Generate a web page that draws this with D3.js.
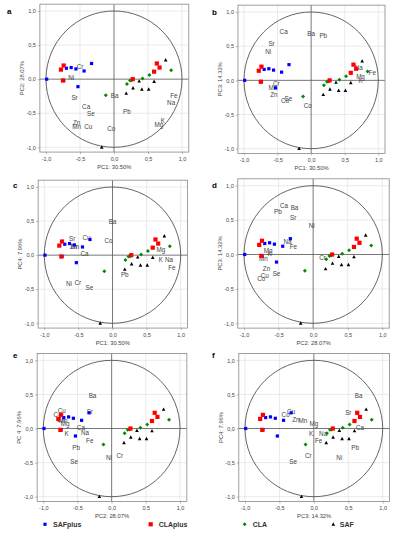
<!DOCTYPE html>
<html><head><meta charset="utf-8">
<script src="https://cdn.jsdelivr.net/npm/d3@7"></script>
<style>body{margin:0;background:#fff}svg{display:block;font-family:"Liberation Sans",Arial,sans-serif}</style>
</head><body><svg id="c" width="393" height="550"></svg>
<script>
// ---------- DATA ----------
const panelIds = ["a","b","c","d","e","f"];
const xTitles = ["PC1: 30.50%","PC1: 30.50%","PC1: 30.50%","PC2: 28.07%","PC2: 28.07%","PC3: 14.32%"];
const yTitles = ["PC2: 28.07%","PC3: 14.32%","PC4:  7.96%","PC3: 14.32%","PC 4:  7.96%","PC4:  7.96%"];
const tickValues = [-1,-0.5,0,0.5,1];
const tickLabels = ["-1,0","-0,5","0,0","0,5","1,0"];
const seriesNames = ["SAFplus","CLAplus","CLA","SAF"];

const safplusPts = [[-0.99,0.00],[-0.70,0.16],[-0.63,0.17],[-0.56,0.15],[-0.44,0.12],[-0.33,0.23],[-0.53,-0.11],[-0.74,-0.02]];
const claplusPts = [[-0.78,0.14],[-0.74,0.20],[-0.75,-0.02],[0.275,0.0],[0.59,0.11],[0.63,0.23],[0.67,0.17]];
const claPts = [[-0.12,-0.235],[0.19,-0.07],[0.235,-0.02],[0.26,-0.015],[0.42,0.01],[0.52,0.06],[0.84,0.13]];
const safPts = [[-0.18,-1.0],[0.18,-0.21],[0.28,-0.13],[0.37,-0.03],[0.41,-0.15],[0.51,-0.15],[0.59,-0.035],[0.76,0.28]];

const loadingsA = [["Cr",-0.5,0.18],["Ni",-0.63,0.02],["Sr",-0.58,-0.265],["Ca",-0.41,-0.40],["Se",-0.34,-0.51],["Zn",-0.55,-0.63],["Mn",-0.55,-0.69],["Cu",-0.38,-0.69],["Co",-0.04,-0.73],["Ba",0.01,-0.235],["Pb",0.19,-0.47],["Fe",0.88,-0.245],["Na",0.84,-0.34],["K",0.72,-0.61],["Mg",0.66,-0.66]];
const loadingsB = [["Ca",-0.41,0.71],["Ba",0.0,0.68],["Pb",0.18,0.65],["Sr",-0.59,0.54],["Ni",-0.64,0.42],["Cr",-0.52,-0.04],["Mn",-0.57,-0.11],["Zn",-0.555,-0.20],["Se",-0.34,-0.27],["Cu",-0.39,-0.29],["Co",-0.05,-0.37],["Na",0.71,0.195],["Fe",0.91,0.11],["Mg",0.735,0.06],["K",0.735,0.0]];
const loadingsC = [["Ba",0.0,0.50],["Sr",-0.59,0.25],["Cu",-0.38,0.26],["Co",-0.06,0.21],["Zn",-0.57,0.12],["Mn",-0.55,0.12],["Ca",-0.41,0.02],["Ni",-0.64,-0.41],["Cr",-0.51,-0.40],["Se",-0.34,-0.48],["Pb",0.18,-0.28],["Mg",0.71,0.08],["K",0.71,-0.07],["Na",0.83,-0.065],["Fe",0.87,-0.18]];
const loadingsD = [["Ca",-0.42,0.71],["Ba",-0.27,0.68],["Pb",-0.51,0.63],["Sr",-0.29,0.54],["Ni",-0.02,0.42],["Na",-0.37,0.19],["Fe",-0.285,0.11],["Mg",-0.65,0.06],["K",-0.63,0.01],["Mn",-0.72,-0.06],["Zn",-0.675,-0.20],["Se",-0.53,-0.27],["Cu",-0.70,-0.30],["Co",-0.75,-0.35],["Cr",0.135,-0.05]];
const loadingsE = [["Ba",-0.28,0.49],["Sr",-0.32,0.25],["Cu",-0.73,0.26],["Co",-0.79,0.21],["Zn",-0.74,0.13],["Mn",-0.71,0.115],["Mg",-0.68,0.08],["Ca",-0.45,0.02],["K",-0.66,-0.08],["Na",-0.39,-0.06],["Fe",-0.32,-0.17],["Pb",-0.52,-0.28],["Ni",-0.04,-0.42],["Cr",0.12,-0.39],["Se",-0.55,-0.49]];
const loadingsF = [["Ba",0.65,0.49],["Sr",0.50,0.24],["Cu",-0.33,0.25],["Co",-0.41,0.21],["Zn",-0.26,0.13],["Mn",-0.16,0.12],["Mg",0.0,0.08],["Ca",0.67,0.02],["Na",0.135,-0.07],["K",-0.04,-0.08],["Fe",0.07,-0.17],["Pb",0.60,-0.28],["Ni",0.37,-0.42],["Cr",-0.08,-0.40],["Se",-0.30,-0.49]];

// ---------- LAYOUT ----------
const loadings = [loadingsA,loadingsB,loadingsC,loadingsD,loadingsE,loadingsF];
const layout = [
  {x0:46,x1:182,yt:11,yb:147.3,lx:7,ly:11},
  {x0:244,x1:378.3,yt:12,yb:148.7,lx:212,ly:12},
  {x0:44.3,x1:180.7,yt:187,yb:323.3,lx:13,ly:185},
  {x0:244,x1:382.3,yt:185.7,yb:323.3,lx:212,ly:185},
  {x0:43.3,x1:180,yt:360.3,yb:496.7,lx:13,ly:355},
  {x0:245,x1:382.7,yt:360.3,yb:496.7,lx:212,ly:355}
];
const seriesData = [safplusPts, claplusPts, claPts, safPts];
const colors = ["#0000ff","#ff0000","#008c00","#000000"];
const drawOrder = [0,3,2,1];

const svg = d3.select("#c");

function marker(g, k, cx, cy) {
  if (k === 0) g.append("rect").attr("x",cx-1.6).attr("y",cy-1.6).attr("width",3.2).attr("height",3.2).attr("fill",colors[0]);
  else if (k === 1) g.append("rect").attr("x",cx-2.1).attr("y",cy-2.1).attr("width",4.2).attr("height",4.2).attr("fill",colors[1]);
  else if (k === 2) g.append("path").attr("d",`M${cx},${cy-2}L${cx+2},${cy}L${cx},${cy+2}L${cx-2},${cy}Z`).attr("fill",colors[2]);
  else g.append("path").attr("d",`M${cx},${cy-2}L${cx+1.8},${cy+1.4}L${cx-1.8},${cy+1.4}Z`).attr("fill",colors[3]);
}

panelIds.forEach((id, i) => {
  const L = layout[i];
  const x = d3.scaleLinear().domain([-1,1]).range([L.x0,L.x1]);
  const y = d3.scaleLinear().domain([-1,1]).range([L.yb,L.yt]);
  const fl = x(-1.09), fr = x(1.1), ft = y(1.1), fb = y(-1.07);
  const g = svg.append("g");

  // grid
  tickValues.filter(v => v !== 0).forEach(v => {
    g.append("line").attr("x1",x(v)).attr("x2",x(v)).attr("y1",ft).attr("y2",fb).attr("stroke","#dcdcdc").attr("stroke-width",0.6);
    g.append("line").attr("x1",fl).attr("x2",fr).attr("y1",y(v)).attr("y2",y(v)).attr("stroke","#dcdcdc").attr("stroke-width",0.6);
  });
  // zero lines
  g.append("line").attr("x1",x(0)).attr("x2",x(0)).attr("y1",ft).attr("y2",fb).attr("stroke","#555").attr("stroke-width",0.8);
  g.append("line").attr("x1",fl).attr("x2",fr).attr("y1",y(0)).attr("y2",y(0)).attr("stroke","#555").attr("stroke-width",0.8);
  // circle
  g.append("ellipse").attr("cx",x(0)).attr("cy",y(0)).attr("rx",(x(1)-x(-1))/2).attr("ry",(y(-1)-y(1))/2)
    .attr("fill","none").attr("stroke","#555").attr("stroke-width",0.9);
  // frame
  g.append("rect").attr("x",fl).attr("y",ft).attr("width",fr-fl).attr("height",fb-ft).attr("fill","none").attr("stroke","#888").attr("stroke-width",0.8);

  // axes
  const ax = g.append("g").attr("transform",`translate(0,${fb})`)
    .call(d3.axisBottom(x).tickValues(tickValues).tickFormat((d,j)=>tickLabels[j]).tickSize(2).tickPadding(3));
  const ay = g.append("g").attr("transform",`translate(${fl},0)`)
    .call(d3.axisLeft(y).tickValues(tickValues).tickFormat((d,j)=>tickLabels[j]).tickSize(2).tickPadding(2));
  [ax,ay].forEach(a => {
    a.select(".domain").remove();
    a.selectAll("line").attr("stroke","#888").attr("stroke-width",0.6);
    a.selectAll("text").attr("font-size",5.5).attr("fill","#444").attr("font-family","Liberation Sans, Arial, sans-serif");
  });

  // titles
  g.append("text").attr("x",(fl+fr)/2).attr("y",fb+17).attr("text-anchor","middle").attr("font-size",5.8).attr("fill","#444").text(xTitles[i]);
  g.append("text").attr("transform",`translate(${fl-16},${(ft+fb)/2}) rotate(-90)`).attr("text-anchor","middle").attr("font-size",5.8).attr("fill","#444").text(yTitles[i]);
  g.append("text").attr("x",L.lx).attr("y",L.ly+3).attr("font-size",8).attr("font-weight","bold").attr("fill","#000").text(id);

  // loadings labels
  g.selectAll("text.lab").data(loadings[i]).enter().append("text").attr("class","lab")
    .attr("x",d=>x(d[1])).attr("y",d=>y(d[2])).attr("text-anchor","middle").attr("dominant-baseline","central")
    .attr("font-size",6.3).attr("fill","#444").text(d=>d[0]);

  // points
  drawOrder.forEach(k => {
    seriesData[k].forEach(p => marker(g, k, x(p[0]), y(p[1])));
  });
});

// legend
const legX = [45, 150.7, 244.7, 333.3];
const lg = svg.append("g");
seriesNames.forEach((n,k) => {
  marker(lg, k, legX[k], 524.3);
  lg.append("text").attr("x",legX[k]+(k===3?6.5:8)).attr("y",524.3).attr("dominant-baseline","central")
    .attr("font-size",7).attr("font-weight","bold").attr("fill","#333").text(n);
});
</script>
</body></html>
